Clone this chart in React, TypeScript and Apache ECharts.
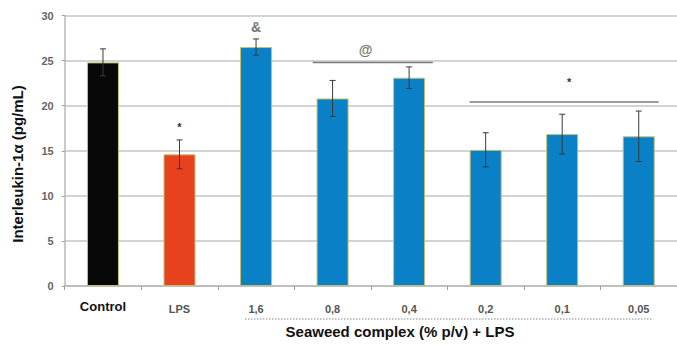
import React, { useEffect, useRef } from "react";
import * as echarts from "echarts";

const categories = ["Control", "LPS", "1,6", "0,8", "0,4", "0,2", "0,1", "0,05"];
const means = [24.8, 14.6, 26.5, 20.8, 23.1, 15.1, 16.85, 16.6];
const errors = [1.5, 1.6, 0.9, 2.0, 1.2, 1.9, 2.2, 2.8];
const barColors = ["#080808", "#e8411e", "#0a80c6", "#0a80c6", "#0a80c6", "#0a80c6", "#0a80c6", "#0a80c6"];
const yTicks = { min: 0, max: 30, interval: 5 };
// significance brackets: [startPos, endPos, yValue]
const brackets = [
  [2.74, 4.31, 24.8],
  [4.79, 7.26, 20.4],
];
// significance marks: positions [xPos, yValue] and their symbols
const markPositions = [
  [1, 17.6],
  [2, 28.7],
  [3.43, 26.2],
  [6.09, 22.6],
];
const markSymbols = ["*", "&", "@", "*"];
const yAxisTitle = "Interleukin-1α (pg/mL)";
const xAxisTitle = "Seaweed complex (% p/v) + LPS";

export default function App() {
  const ref = useRef<HTMLDivElement>(null);
  useEffect(() => {
    if (!ref.current) return;
    const chart = echarts.init(ref.current, null, { renderer: "svg" });
    const font = "'Liberation Sans', Arial, sans-serif";
    chart.setOption({
      animation: false,
      backgroundColor: "#ffffff",
      grid: { left: 64.7, right: -6, top: 15.5, bottom: 60, containLabel: false },
      xAxis: [
        {
          type: "category",
          data: categories,
          axisLine: { show: true, onZero: false, lineStyle: { color: "#b8b8b8", width: 1.5 } },
          axisTick: { show: true, length: 4, lineStyle: { color: "#a0a0a0" } },
          axisLabel: {
            margin: 14,
            fontFamily: font,
            formatter: (v: string) => (v === "Control" ? "{c|" + v + "}" : "{g|" + v + "}"),
            rich: {
              c: { fontSize: 13, fontWeight: "bold", color: "#111", fontFamily: font },
              g: { fontSize: 11, fontWeight: "bold", color: "#555", fontFamily: font, padding: [3, 0, 0, 0] },
            },
          },
        },
        { type: "value", min: -0.5, max: 7.5, show: false, axisLine: { onZero: false } },
      ],
      yAxis: {
        type: "value",
        min: yTicks.min,
        max: yTicks.max,
        interval: yTicks.interval,
        axisLine: { show: true, onZero: false, lineStyle: { color: "#b8b8b8", width: 1.5 } },
        axisTick: { show: true, length: 3, lineStyle: { color: "#a0a0a0" } },
        axisLabel: { fontSize: 11, fontWeight: "bold", color: "#666", margin: 11, fontFamily: font },
        splitLine: { lineStyle: { color: "#c4c4c4", width: 1.5 } },
      },
      series: [
        {
          type: "bar",
          barWidth: 32,
          data: means.map((v, i) => ({
            value: v,
            itemStyle: { color: barColors[i], borderColor: "#c2c070", borderWidth: 1 },
          })),
          z: 2,
        },
        {
          type: "custom",
          z: 5,
          encode: { x: 0, y: [1, 2] },
          data: means.map((m, i) => [i, m - errors[i], m + errors[i]]),
          renderItem: (params: any, api: any) => {
            const x = api.value(0);
            const lo = api.coord([x, api.value(1)]);
            const hi = api.coord([x, api.value(2)]);
            const cap = 3;
            const style = { stroke: "#3a3a3a", lineWidth: 1 };
            return {
              type: "group",
              children: [
                { type: "line", shape: { x1: lo[0], y1: lo[1], x2: hi[0], y2: hi[1] }, style },
                { type: "line", shape: { x1: hi[0] - cap, y1: hi[1], x2: hi[0] + cap, y2: hi[1] }, style },
                { type: "line", shape: { x1: lo[0] - cap, y1: lo[1], x2: lo[0] + cap, y2: lo[1] }, style },
              ],
            };
          },
        },
        {
          type: "custom",
          xAxisIndex: 1,
          z: 4,
          encode: { x: [0, 1], y: 2 },
          data: brackets,
          renderItem: (params: any, api: any) => {
            const a = api.coord([api.value(0), api.value(2)]);
            const b = api.coord([api.value(1), api.value(2)]);
            return {
              type: "line",
              shape: { x1: a[0], y1: a[1], x2: b[0], y2: b[1] },
              style: { stroke: "#7a7a7a", lineWidth: 1.5 },
            };
          },
        },
        {
          type: "custom",
          xAxisIndex: 1,
          z: 4,
          encode: { x: 0, y: 1 },
          data: markPositions,
          renderItem: (params: any, api: any) => {
            const p = api.coord([api.value(0), api.value(1)]);
            const s = markSymbols[params.dataIndex];
            const isStar = s === "*";
            return {
              type: "text",
              x: p[0],
              y: p[1],
              style: {
                text: s,
                fill: isStar ? "#333" : "#777",
                fontSize: isStar ? 11 : 14,
                fontWeight: "bold",
                fontFamily: font,
                align: "center",
                verticalAlign: "middle",
              },
            };
          },
        },
      ],
      graphic: [
        {
          type: "text",
          x: 17,
          y: 164,
          rotation: Math.PI / 2,
          style: {
            text: yAxisTitle,
            fontSize: 15,
            fontWeight: "bold",
            fill: "#111",
            fontFamily: font,
            align: "center",
            verticalAlign: "middle",
          },
        },
        {
          type: "line",
          shape: { x1: 245, y1: 319, x2: 652, y2: 319 },
          style: { stroke: "#888", lineWidth: 1.2, lineDash: [1.5, 1.5] },
        },
        {
          type: "text",
          x: 400,
          y: 331,
          style: {
            text: xAxisTitle,
            fontSize: 15,
            fontWeight: "bold",
            fill: "#111",
            fontFamily: font,
            align: "center",
            verticalAlign: "middle",
          },
        },
      ],
    });
    return () => chart.dispose();
  }, []);
  return <div ref={ref} style={{ width: 677, height: 346, position: "absolute", left: 0, top: 0 }} />;
}
